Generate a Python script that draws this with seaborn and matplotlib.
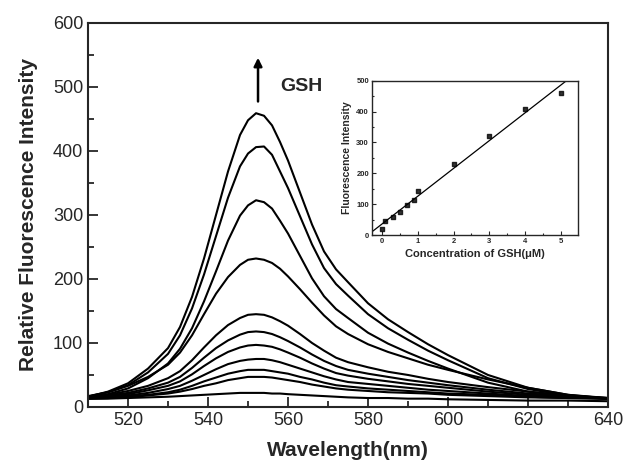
import numpy as np
import pandas as pd
import seaborn as sns
import matplotlib.pyplot as plt
from matplotlib.ticker import MultipleLocator

# emission spectra (nm), one list per GSH level
wavelength = [510, 515, 520, 525, 530, 533, 536, 539, 542, 545, 548, 550, 552, 554, 556, 558,
              560, 563, 566, 569, 572, 575, 580, 585, 590, 595, 600, 610, 620, 630, 640]

spec_0 = [13, 13, 14, 15, 16, 17, 18, 19, 20, 21, 22, 22, 22, 22, 21, 21,
          20, 19, 18, 17, 16, 15, 14, 14, 13, 13, 12, 11, 10, 10, 9]
spec_1 = [13, 14, 15, 18, 21, 24, 28, 33, 37, 42, 45, 47, 47, 47, 46, 44,
          42, 39, 35, 32, 29, 27, 25, 23, 22, 21, 19, 17, 15, 14, 13]
spec_2 = [13, 14, 17, 19, 23, 27, 33, 40, 46, 52, 56, 58, 58, 58, 56, 54,
          52, 47, 43, 38, 34, 32, 29, 27, 25, 23, 21, 19, 16, 14, 13]
spec_3 = [14, 15, 18, 22, 28, 33, 41, 50, 59, 67, 72, 74, 75, 75, 73, 70,
          66, 60, 54, 48, 43, 39, 36, 33, 30, 27, 25, 21, 17, 15, 13]
spec_4 = [14, 17, 20, 26, 33, 40, 51, 64, 76, 86, 93, 96, 97, 96, 94, 90,
          85, 77, 68, 60, 53, 49, 44, 40, 36, 33, 30, 24, 19, 16, 13]
spec_5 = [15, 18, 22, 29, 38, 47, 61, 77, 92, 104, 113, 117, 118, 117, 114, 109,
          103, 93, 82, 72, 64, 58, 52, 47, 42, 38, 34, 27, 21, 17, 14]
spec_6 = [16, 19, 25, 33, 45, 56, 73, 93, 112, 128, 139, 144, 145, 144, 140, 134,
          127, 114, 100, 88, 77, 70, 62, 55, 50, 44, 39, 31, 24, 18, 14]
spec_7 = [17, 23, 33, 47, 66, 85, 112, 145, 177, 203, 222, 230, 232, 230, 225, 216,
          204, 184, 163, 143, 126, 114, 98, 86, 76, 66, 58, 43, 30, 19, 14]
spec_8 = [15, 20, 29, 45, 68, 91, 123, 165, 212, 260, 299, 315, 323, 320, 310, 291,
          271, 236, 201, 173, 153, 139, 116, 99, 85, 72, 60, 38, 24, 17, 13]
spec_9 = [16, 23, 34, 54, 83, 112, 154, 207, 267, 327, 376, 396, 406, 407, 394, 368,
          342, 298, 254, 217, 192, 174, 145, 123, 105, 88, 73, 45, 28, 18, 13]
spec_10 = [16, 24, 37, 60, 92, 125, 172, 232, 300, 368, 425, 448, 459, 455, 440, 414,
           385, 335, 285, 243, 215, 195, 162, 137, 117, 98, 81, 50, 30, 19, 13]

spectra = [spec_0, spec_1, spec_2, spec_3, spec_4, spec_5,
           spec_6, spec_7, spec_8, spec_9, spec_10]

# inset: calibration points
conc = [0, 0.1, 0.3, 0.5, 0.7, 0.9, 1, 2, 3, 4, 5]
peak = [20, 44, 57, 73, 96, 115, 143, 229, 322, 409, 459]

rows = []
for i, s in enumerate(spectra):
    for w, v in zip(wavelength, s):
        rows.append({'wl': w, 'I': v, 'curve': i})
df = pd.DataFrame(rows)

sns.set_style('ticks')
plt.rcParams['font.family'] = ['Liberation Sans', 'DejaVu Sans']
plt.rcParams['xtick.direction'] = 'in'
plt.rcParams['ytick.direction'] = 'in'

fig = plt.figure(figsize=(6.26, 4.63), dpi=100)
ax = fig.add_axes([0.1406, 0.121, 0.8307, 0.8294])

sns.lineplot(data=df, x='wl', y='I', units='curve', estimator=None,
             color='black', lw=1.5, ax=ax, legend=False)

ax.set_xlim(510, 640)
ax.set_ylim(0, 600)
ax.xaxis.set_major_locator(MultipleLocator(20))
ax.xaxis.set_minor_locator(MultipleLocator(10))
ax.yaxis.set_major_locator(MultipleLocator(100))
ax.yaxis.set_minor_locator(MultipleLocator(50))
ax.tick_params(which='major', length=7, width=1.3, labelsize=13)
ax.tick_params(which='minor', length=4, width=1.3)
for sp in ax.spines.values():
    sp.set_linewidth(1.5)
ax.set_xlabel('Wavelength(nm)', fontsize=15, fontweight='bold', labelpad=9)
ax.set_ylabel('Relative Fluorescence Intensity', fontsize=15, fontweight='bold', labelpad=11)

ax.annotate('', xy=(552.5, 550), xytext=(552.5, 473),
            arrowprops=dict(arrowstyle='-|>', color='black', lw=1.8, mutation_scale=12))
ax.text(558, 500, 'GSH', fontsize=14, fontweight='bold', va='center')

# inset
ins = fig.add_axes([0.594, 0.4924, 0.329, 0.3333])
ins.set_xlim(-0.28, 5.47)
ins.set_ylim(0, 500)
sns.regplot(x=conc, y=peak, ci=None, truncate=False, ax=ins,
            marker='s', scatter_kws=dict(s=5, color='black'),
            line_kws=dict(color='black', lw=0.9))
ins.set_xlim(-0.28, 5.47)
ins.set_ylim(0, 500)
ins.xaxis.set_major_locator(MultipleLocator(1))
ins.xaxis.set_minor_locator(MultipleLocator(0.5))
ins.yaxis.set_major_locator(MultipleLocator(100))
ins.yaxis.set_minor_locator(MultipleLocator(50))
ins.tick_params(which='major', length=3, width=0.8, labelsize=5.5, pad=2)
ins.tick_params(which='minor', length=1.5, width=0.8)
for lab in ins.get_xticklabels() + ins.get_yticklabels():
    lab.set_fontweight('bold')
for sp in ins.spines.values():
    sp.set_linewidth(1.0)
ins.set_xlabel('Concentration of GSH(\u03bcM)', fontsize=8, fontweight='bold', labelpad=3)
ins.set_ylabel('Fluorescence Intensity', fontsize=7.5, fontweight='semibold', labelpad=3)

fig.savefig('out.png', dpi=100)
